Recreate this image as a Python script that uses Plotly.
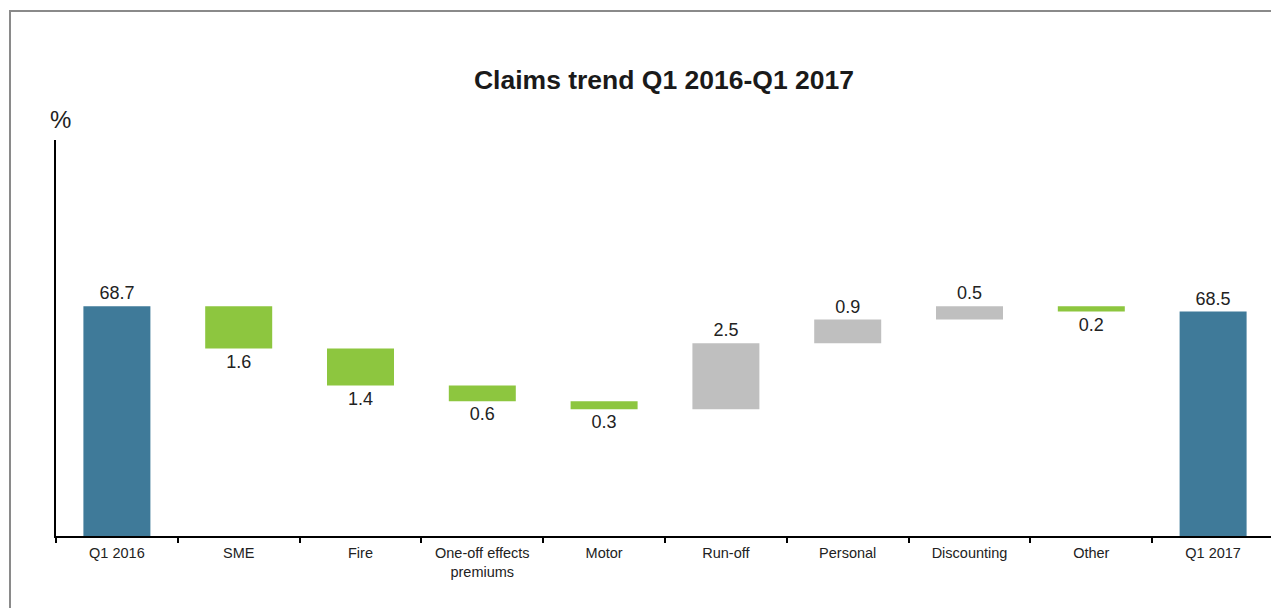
import plotly.graph_objects as go

categories = ["Q1 2016", "SME", "Fire", "One-off effects<br>premiums", "Motor",
              "Run-off", "Personal", "Discounting", "Other", "Q1 2017"]
values = [68.7, -1.6, -1.4, -0.6, -0.3, 2.5, 0.9, 0.5, -0.2, 68.5]
measures = ["absolute"] + ["relative"] * 8 + ["total"]
labels = [f"{abs(v):.1f}" for v in values]

BLUE = "#3F7A99"
GREEN = "#8DC63F"
GRAY = "#BFBFBF"
FONT = "Liberation Sans, Arial, sans-serif"

# page body has an 8px margin; figure coordinates are offset accordingly
W, H = 1271, 600
L, T, B = 48, 132, 72
PW = 1218
PH = H - T - B

fig = go.Figure(go.Waterfall(
    x=categories,
    y=[v if m != "total" else 0 for v, m in zip(values, measures)],
    measure=measures,
    text=labels,
    textposition="outside",
    textfont=dict(size=18, color="#222222", family=FONT),
    width=0.55,
    connector=dict(visible=False),
    increasing=dict(marker=dict(color=GRAY)),
    decreasing=dict(marker=dict(color=GREEN)),
    totals=dict(marker=dict(color=BLUE)),
    cliponaxis=False,
    hoverinfo="skip",
))

fig.update_layout(
    width=W, height=H,
    margin=dict(l=L, r=W - L - PW, t=T, b=B),
    paper_bgcolor="white", plot_bgcolor="white",
    showlegend=False,
    font=dict(family=FONT, color="#222222"),
    title=dict(text="<b>Claims trend Q1 2016-Q1 2017</b>", x=656 / W, xanchor="center",
               y=1 - 72 / H, yanchor="middle",
               font=dict(size=26.5, color="#1a1a1a", family=FONT)),
    xaxis=dict(showline=True, linecolor="black", linewidth=2,
               ticks="outside", tickson="boundaries", ticklen=5, tickwidth=2,
               tickcolor="black", showgrid=False, ticklabelstandoff=3,
               tickfont=dict(size=14.5, color="#222222", family=FONT)),
    yaxis=dict(range=[60, 75], showline=True, linecolor="black", linewidth=2,
               showticklabels=False, ticks="", showgrid=False, zeroline=False),
    annotations=[dict(text="%", xref="paper", yref="paper",
                      x=(52 - L) / PW, y=(T + PH - 112) / PH,
                      xanchor="center", yanchor="middle", showarrow=False,
                      font=dict(size=24, color="#222222", family=FONT))],
    shapes=[dict(type="rect", xref="paper", yref="paper",
                 x0=(2 - L) / PW, x1=1.2, y0=-0.5, y1=(T + PH - 3) / PH,
                 line=dict(color="#8a8a8a", width=2), fillcolor="rgba(0,0,0,0)",
                 layer="above")],
)

fig.write_html("out.html")
